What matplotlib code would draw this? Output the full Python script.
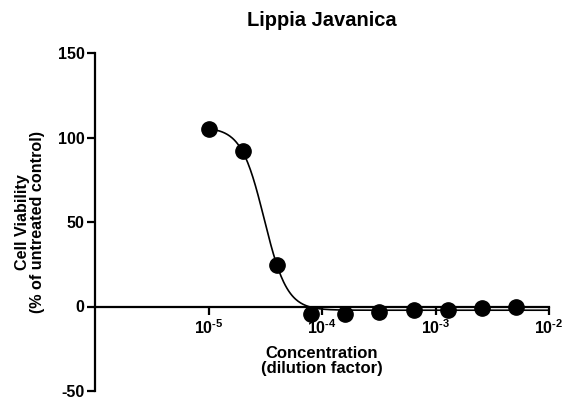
import matplotlib
matplotlib.use('Agg')
import matplotlib.pyplot as plt
import numpy as np

plt.rcParams['font.family'] = ['Liberation Sans', 'DejaVu Sans']
plt.rcParams['font.weight'] = 'bold'
plt.rcParams['axes.unicode_minus'] = False
plt.rcParams['mathtext.fontset'] = 'custom'
plt.rcParams['mathtext.rm'] = 'Liberation Sans:bold'
plt.rcParams['mathtext.bf'] = 'Liberation Sans:bold'

# data (2-fold dilution series)
dilution = [1e-5, 2e-5, 4e-5, 8e-5, 1.6e-4, 3.2e-4, 6.4e-4, 1.28e-3, 2.56e-3, 5.12e-3]
viability = [105, 92, 24.5, -4.7, -4.7, -3.5, -2.3, -2.3, -0.7, 0.0]

# 4PL fit parameters (estimated)
fit_top = 106.0
fit_bottom = -2.2
fit_log_ic50 = -4.51
fit_hill = 4.3

x_ticks = [1e-5, 1e-4, 1e-3, 1e-2]
x_ticklabels = ['10$^{\\text{-5}}$', '10$^{\\text{-4}}$', '10$^{\\text{-3}}$', '10$^{\\text{-2}}$']
y_ticks = [-50, 0, 50, 100, 150]

fig = plt.figure(figsize=(5.64, 3.98), dpi=100)
ax = fig.add_axes([95/564, 7/398, (549-95)/564, (391-53)/398])

xc = np.logspace(-5, -2, 400)
yc = fit_bottom + (fit_top - fit_bottom) / (1 + 10 ** ((np.log10(xc) - fit_log_ic50) * fit_hill))
ax.plot(xc, yc, color='black', lw=1.2, zorder=3)
ax.plot(dilution, viability, 'o', color='black', markersize=11, zorder=4, clip_on=False)

ax.set_xscale('log')
ax.set_xlim(1e-6, 1e-2)
ax.set_ylim(-50, 150)

ax.spines['top'].set_visible(False)
ax.spines['right'].set_visible(False)
ax.spines['bottom'].set_position(('data', 0))
ax.spines['left'].set_linewidth(1.6)
ax.spines['bottom'].set_linewidth(1.6)

ax.set_xticks(x_ticks)
ax.set_xticklabels(x_ticklabels)
ax.xaxis.set_minor_locator(matplotlib.ticker.NullLocator())
ax.set_yticks(y_ticks)
ax.tick_params(axis='both', width=1.6, length=5.5, direction='out')
ax.tick_params(axis='x', labelsize=11.5, pad=3)
ax.tick_params(axis='y', labelsize=11.5, pad=2)
for lab in ax.get_yticklabels() + ax.get_xticklabels():
    lab.set_fontweight('bold')

fig.text(322/564, 1 - 21/398, 'Lippia Javanica', ha='center', va='center',
         fontsize=14.5, fontweight='bold')
fig.text(322/564, 1 - 361/398, 'Concentration\n(dilution factor)', ha='center', va='center',
         fontsize=12, fontweight='bold', linespacing=1.0)
fig.text(30/564, 1 - 222/398, 'Cell Viability\n(% of untreated control)', ha='center', va='center',
         rotation=90, fontsize=11.6, fontweight='bold', linespacing=1.0)

fig.savefig('out.png', dpi=100)
